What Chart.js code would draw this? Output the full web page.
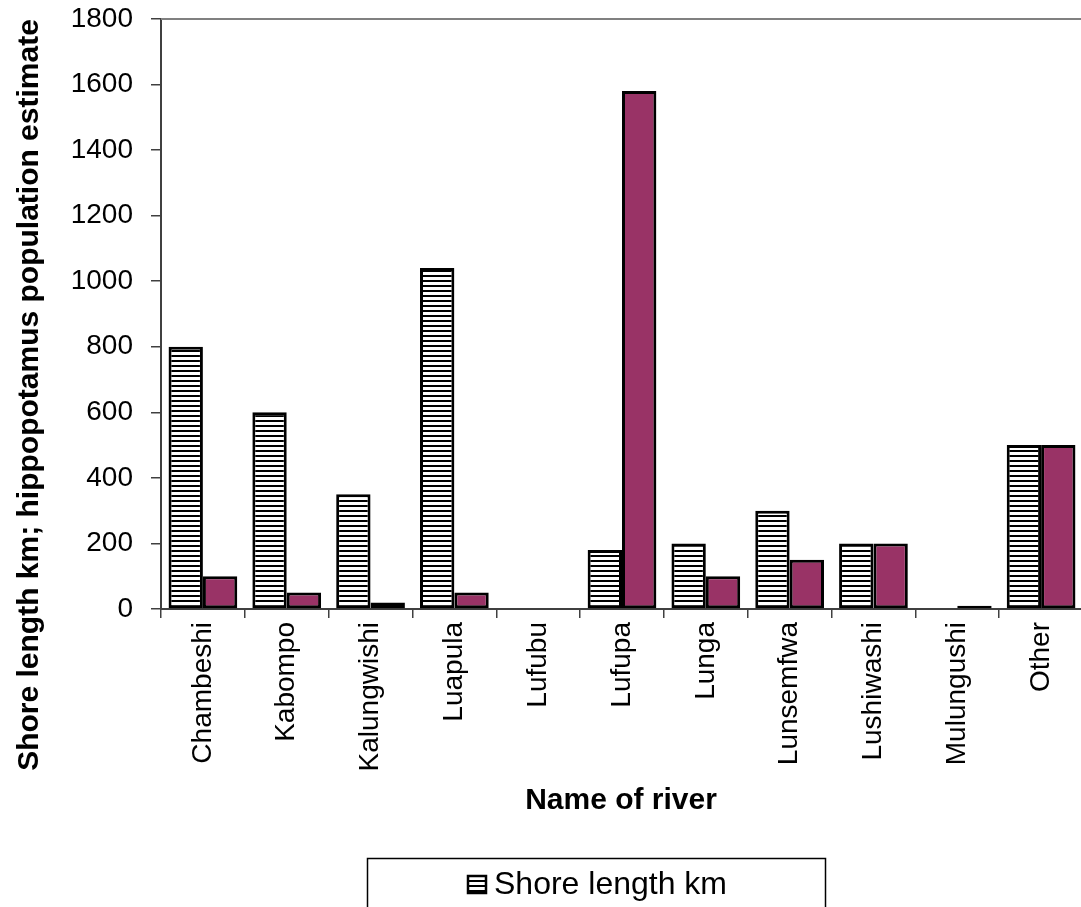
<!DOCTYPE html>
<html>
<head>
<meta charset="utf-8">
<script src="https://cdn.jsdelivr.net/npm/chart.js@4/dist/chart.umd.min.js"></script>
<style>
html, body { margin: 0; padding: 0; background: #fff; overflow: hidden; }
#wrap { width: 1083px; height: 1000px; position: relative; }
</style>
</head>
<body>
<div id="wrap"><canvas id="canvas"></canvas></div>
<script>
var rivers = ["Chambeshi", "Kabompo", "Kalungwishi", "Luapula", "Lufubu", "Lufupa",
    "Lunga", "Lunsemfwa", "Lushiwashi", "Mulungushi", "Other"];
var shoreLength = [800, 600, 350, 1040, 0, 180, 200, 300, 200, 0, 500];
var hippoEstimate = [100, 50, 20, 50, 0, 1580, 100, 150, 200, 10, 500];
var seriesNames = ["Shore length km", "Hippopotamus population estimate"];
var yMin = 0, yMax = 1800, yStep = 200;

var FONT = '"Liberation Sans", Arial, sans-serif';
var plum = '#993366';

// horizontal black/white stripes for the shore length bars
function stripePattern(ctx) {
    var c = document.createElement('canvas');
    c.width = 8; c.height = 5;
    var p = c.getContext('2d');
    p.fillStyle = '#fff';
    p.fillRect(0, 0, 8, 5);
    p.fillStyle = '#000';
    p.fillRect(0, 0, 8, 2);
    return ctx.createPattern(c, 'repeat');
}

// titles, top border and the boxed legend are drawn by hand
var decorations = {
    id: 'decorations',
    afterDraw: function(chart) {
        var ctx = chart.ctx, area = chart.chartArea;
        ctx.save();
        // top border of the plot area
        ctx.strokeStyle = '#808080';
        ctx.lineWidth = 2;
        ctx.beginPath();
        ctx.moveTo(area.left, area.top);
        ctx.lineTo(area.right, area.top);
        ctx.stroke();

        // y axis title
        ctx.fillStyle = '#000';
        ctx.font = 'bold 30px ' + FONT;
        ctx.textAlign = 'center';
        ctx.textBaseline = 'middle';
        ctx.translate(30, 395);
        ctx.rotate(-Math.PI / 2);
        ctx.fillText('Shore length km; hippopotamus population estimate', 0, 0);
        ctx.setTransform(1, 0, 0, 1, 0, 0);

        // x axis title
        ctx.font = 'bold 30px ' + FONT;
        ctx.fillText('Name of river', 621, 801);

        // legend box
        var lx = 367.5, ly = 858.5, lw = 458, lh = 110;
        ctx.fillStyle = '#fff';
        ctx.fillRect(lx, ly, lw, lh);
        ctx.strokeStyle = '#000';
        ctx.lineWidth = 1.5;
        ctx.strokeRect(lx, ly, lw, lh);

        var ds = chart.data.datasets;
        for (var i = 0; i < ds.length; i++) {
            var iy = 876 + i * 42;
            ctx.fillStyle = ds[i].backgroundColor;
            ctx.fillRect(468, iy, 18, 17);
            ctx.strokeStyle = '#000';
            ctx.lineWidth = 2.5;
            ctx.strokeRect(468, iy, 18, 17);
            ctx.fillStyle = '#000';
            ctx.font = '32px ' + FONT;
            ctx.textAlign = 'left';
            ctx.textBaseline = 'middle';
            ctx.fillText(ds[i].label, 494, iy + 9);
        }
        ctx.restore();
    }
};

window.onload = function() {
    var ctx = document.getElementById('canvas').getContext('2d');
    var stripes = stripePattern(ctx);
    new Chart(ctx, {
        type: 'bar',
        data: {
            labels: rivers,
            datasets: [{
                label: seriesNames[0],
                data: shoreLength,
                backgroundColor: stripes,
                borderColor: '#000',
                borderWidth: 3,
                borderSkipped: false
            }, {
                label: seriesNames[1],
                data: hippoEstimate,
                backgroundColor: plum,
                borderColor: '#000',
                borderWidth: 3,
                borderSkipped: false
            }]
        },
        options: {
            responsive: true,
            maintainAspectRatio: false,
            animation: false,
            devicePixelRatio: 1,
            layout: { padding: { top: 19, left: 0, right: 0, bottom: 0 } },
            datasets: { bar: { categoryPercentage: 0.82, barPercentage: 1.0 } },
            plugins: {
                legend: { display: false },
                tooltip: { enabled: false }
            },
            scales: {
                x: {
                    grid: { display: true, drawOnChartArea: false, offset: true, tickLength: 9, color: '#404040', lineWidth: 1.5 },
                    border: { display: true, color: '#404040', width: 2 },
                    ticks: { minRotation: 90, maxRotation: 90, autoSkip: false, padding: 4, color: '#000', font: { family: FONT, size: 28 } },
                    afterFit: function(scale) {
                        scale.height = 391;
                        scale.paddingLeft = 0;
                        scale.paddingRight = 0;
                    }
                },
                y: {
                    min: yMin,
                    max: yMax,
                    grid: { display: true, drawOnChartArea: false, tickLength: 10, color: '#404040', lineWidth: 1.5 },
                    border: { display: true, color: '#404040', width: 2 },
                    ticks: {
                        stepSize: yStep,
                        padding: 18,
                        color: '#000',
                        font: { family: FONT, size: 28 },
                        callback: function(v) { return String(v); }
                    },
                    afterFit: function(scale) {
                        scale.width = 161;
                        scale.paddingTop = 0;
                        scale.paddingBottom = 0;
                    }
                }
            }
        },
        plugins: [decorations]
    });
};
</script>
</body>
</html>
